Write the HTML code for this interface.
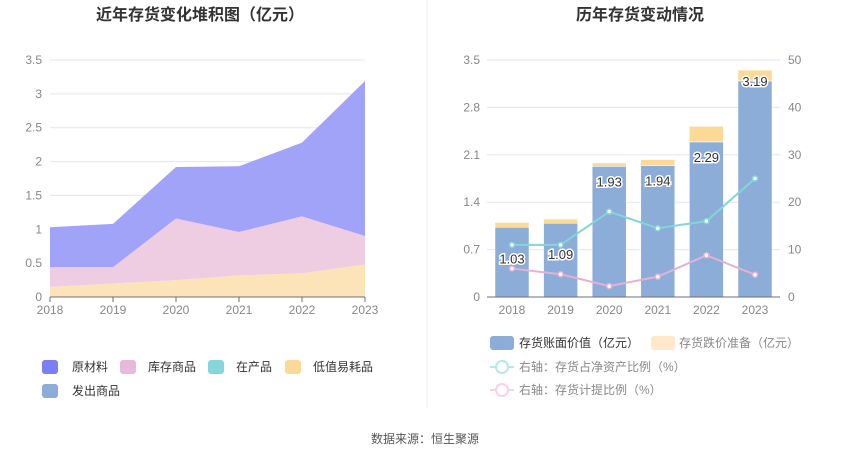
<!DOCTYPE html>
<html><head><meta charset="utf-8">
<style>
body{margin:0;background:#fff;font-family:"Liberation Sans","Noto Sans CJK SC",sans-serif;}
svg text{font-family:"Liberation Sans","Noto Sans CJK SC",sans-serif;}
</style></head>
<body>
<svg id="c" width="850" height="459" viewBox="0 0 850 459" xmlns="http://www.w3.org/2000/svg">
<rect width="850" height="459" fill="#fff"/>
<text x="200" y="20" text-anchor="middle" font-size="16" font-weight="bold" fill="#333">近年存货变化堆积图（亿元）</text>
<text x="640" y="20" text-anchor="middle" font-size="16" font-weight="bold" fill="#333">历年存货变动情况</text>
<line x1="427" y1="0" x2="427" y2="408" stroke="#eee"/>
<g id="left"></g>
<g id="right"></g>
<g>
<rect x="42" y="360" width="16" height="14" rx="3" fill="#7b7ff6"/><text x="72" y="371" font-size="12" fill="#333">原材料</text>
<rect x="120" y="360" width="16" height="14" rx="3" fill="#e8b9d9"/><text x="148" y="371" font-size="12" fill="#333">库存商品</text>
<rect x="208" y="360" width="16" height="14" rx="3" fill="#85d6da"/><text x="236" y="371" font-size="12" fill="#333">在产品</text>
<rect x="285" y="360" width="16" height="14" rx="3" fill="#fdd998"/><text x="313" y="371" font-size="12" fill="#333">低值易耗品</text>
<rect x="42" y="384" width="16" height="14" rx="3" fill="#8dadd9"/><text x="72" y="395" font-size="12" fill="#333">发出商品</text>
</g>
<g>
<rect x="490" y="336" width="24" height="14" rx="3" fill="#8dadd9"/><text x="519" y="347" font-size="12" fill="#333">存货账面价值（亿元）</text>
<rect x="651" y="336" width="24" height="14" rx="3" fill="#feeacb"/><text x="679" y="347" font-size="12" fill="#888">存货跌价准备（亿元）</text>
<line x1="490" y1="367" x2="514" y2="367" stroke="#b5e8ea" stroke-width="2"/><circle cx="502" cy="367" r="6" fill="#fff" stroke="#b5e8ea" stroke-width="2"/><text x="519" y="371" font-size="12" fill="#888">右轴：存货占净资产比例（%）</text>
<line x1="490" y1="390" x2="514" y2="390" stroke="#f5d2e8" stroke-width="2"/><circle cx="502" cy="390" r="6" fill="#fff" stroke="#f5d2e8" stroke-width="2"/><text x="519" y="394" font-size="12" fill="#888">右轴：存货计提比例（%）</text>
</g>
<text x="425" y="443" text-anchor="middle" font-size="12" fill="#555">数据来源：恒生聚源</text>
</svg>
<script>
const years=["2018","2019","2020","2021","2022","2023"];
const consumables=[0.15,0.20,0.25,0.32,0.35,0.48];
const stockGoods=[0.29,0.24,0.91,0.64,0.84,0.42];
const rawMaterial=[0.59,0.64,0.76,0.97,1.09,2.29];
const leftTicks=[0,0.5,1,1.5,2,2.5,3,3.5];
const bookValue=[1.03,1.09,1.93,1.94,2.29,3.19];
const reserve=[0.07,0.06,0.05,0.09,0.23,0.16];
const assetRatio=[11,11,18,14.5,16,25];
const provisionRatio=[6,4.8,2.3,4.3,8.8,4.7];
const rightTicks=[0,0.7,1.4,2.1,2.8,3.5];
const rightTicks2=[0,10,20,30,40,50];
const NS="http://www.w3.org/2000/svg";
function mk(p,t,a){const e=document.createElementNS(NS,t);for(const k in a)e.setAttribute(k,a[k]);p.appendChild(e);return e;}
// left chart
const L=document.getElementById('left');
const lx=i=>50+i*(315/5), ly=v=>297-v*(237/3.5);
leftTicks.forEach(t=>{
 if(t>0){const g=mk(L,'line',{x1:50,x2:365,y1:ly(t),y2:ly(t),stroke:'#e3e6f3'});
 
 }
 const tx=mk(L,'text',{x:42,y:ly(t)+4,'text-anchor':'end','font-size':12,fill:'#888'});tx.textContent=t;
 
 
});
const layers=[[consumables,'#fde3b8','area-consumables'],[stockGoods,'#eecde3','area-stock-goods'],[rawMaterial,'#a0a3f8','area-raw-material']];
let base=years.map(()=>0);
layers.forEach(([vals,col,name])=>{
 const top=base.map((b,i)=>b+vals[i]);
 let d='M'+top.map((v,i)=>lx(i)+','+ly(v)).join('L');
 for(let i=years.length-1;i>=0;i--)d+='L'+lx(i)+','+ly(base[i]);
 const p=mk(L,'path',{d:d+'Z',fill:col});
 
 
 base=top;
});
mk(L,'line',{x1:50,x2:365,y1:297,y2:297,stroke:'#6e7079'});
years.forEach((y,i)=>{mk(L,'line',{x1:lx(i),x2:lx(i),y1:297,y2:302,stroke:'#6e7079'});
 const t=mk(L,'text',{x:lx(i),y:314,'text-anchor':'middle','font-size':12,fill:'#888'});t.textContent=y;
 
 });
// right chart
const R=document.getElementById('right');
const rx=i=>512+i*48.6, ry=v=>297-v*(237/3.5), ry2=v=>297-v*(237/50);
rightTicks.forEach((t,k)=>{
 if(t>0)mk(R,'line',{x1:487,x2:780,y1:ry(t),y2:ry(t),stroke:'#e3e6f3'});
 const a=mk(R,'text',{x:480,y:ry(t)+4,'text-anchor':'end','font-size':12,fill:'#888'});a.textContent=t;
 
 
 const b=mk(R,'text',{x:788,y:ry2(rightTicks2[k])+4,'font-size':12,fill:'#888'});b.textContent=rightTicks2[k];
 
 
});
years.forEach((y,i)=>{
 const b=mk(R,'rect',{x:rx(i)-17,y:ry(bookValue[i]),width:34,height:297-ry(bookValue[i]),fill:'#8dadd9',stroke:'#fff','stroke-width':0.5});
 
 
 const r=mk(R,'rect',{x:rx(i)-17,y:ry(bookValue[i]+reserve[i]),width:34,height:ry(bookValue[i])-ry(bookValue[i]+reserve[i]),fill:'#fdd998',stroke:'#fff','stroke-width':0.5});
 
 
});
mk(R,'line',{x1:487,x2:780,y1:297,y2:297,stroke:'#6e7079'});
years.forEach((y,i)=>{
 const t=mk(R,'text',{x:rx(i),y:314,'text-anchor':'middle','font-size':12,fill:'#888'});t.textContent=y;
 
 });
[[assetRatio,'#82d5d8','line-asset-ratio'],[provisionRatio,'#e3b1d6','line-provision-ratio']].forEach(([vals,col,name])=>{
 const p=mk(R,'polyline',{points:vals.map((v,i)=>rx(i)+','+ry2(v)).join(' '),fill:'none',stroke:col,'stroke-width':2});
 
 
 vals.forEach((v,i)=>{const c=mk(R,'circle',{cx:rx(i),cy:ry2(v),r:2.5,fill:'#fff',stroke:col,'stroke-width':1.5});
 
 });
});
bookValue.forEach((v,i)=>{
 const t=mk(R,'text',{x:rx(i),y:ry(v)+(i<2?36:i<4?20:i==4?-30:-20)+(i==4?50:0)+(i==5?25:0),'text-anchor':'middle','font-size':13,fill:'#333',stroke:'#fff','stroke-width':3,'paint-order':'stroke'});
 t.textContent=v.toFixed(2);
 
 
});
</script>
</body></html>
